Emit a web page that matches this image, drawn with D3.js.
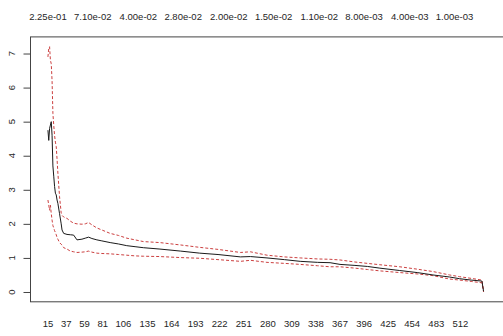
<!DOCTYPE html>
<head>
<meta charset="utf-8">
<script src="https://d3js.org/d3.v7.min.js"></script>
<style>
  body { margin: 0; background: #fff; }
  text { font-family: "Liberation Sans", Arial, sans-serif; font-size: 9.5px; fill: #262626; }
</style>
</head>
<body>
<div id="chart"></div>
<script>
// number of variables kept (x) and the error rate with its band
var nVars = [15, 16, 17, 18, 19, 20, 21, 22, 23, 24, 25, 26, 27, 29, 31, 32, 34, 38, 42, 46, 50, 56, 60, 64, 68, 74, 80, 90, 100, 110, 120, 130, 150, 175, 198, 220, 247, 259, 279, 300, 319, 340, 355, 367, 385, 400, 415, 439, 460, 479, 499, 511, 525, 538, 540];
var meanErr = [4.75, 4.45, 4.8, 4.9, 5.0, 4.6, 3.7, 3.4, 3.1, 2.9, 2.85, 2.7, 2.6, 2.3, 2.0, 1.82, 1.72, 1.69, 1.68, 1.67, 1.53, 1.55, 1.58, 1.61, 1.57, 1.53, 1.5, 1.45, 1.41, 1.36, 1.33, 1.3, 1.26, 1.2, 1.14, 1.1, 1.03, 1.04, 1.0, 0.95, 0.9, 0.87, 0.86, 0.81, 0.78, 0.75, 0.7, 0.63, 0.57, 0.5, 0.44, 0.39, 0.35, 0.32, 0.02];
var upperErr = [6.9, 7.15, 7.2, 6.8, 6.7, 6.2, 5.24, 4.9, 4.6, 4.4, 4.27, 3.9, 3.49, 2.8, 2.31, 2.25, 2.2, 2.16, 2.08, 2.02, 2.0, 1.99, 2.0, 2.04, 1.97, 1.88, 1.82, 1.72, 1.66, 1.58, 1.53, 1.48, 1.45, 1.38, 1.31, 1.25, 1.16, 1.18, 1.08, 1.03, 1.0, 0.97, 0.96, 0.94, 0.88, 0.84, 0.8, 0.74, 0.67, 0.6, 0.5, 0.45, 0.4, 0.35, 0.03];
var lowerErr = [2.7, 2.55, 2.4, 2.55, 2.3, 2.11, 1.95, 1.88, 1.8, 1.75, 1.68, 1.6, 1.55, 1.45, 1.4, 1.38, 1.3, 1.26, 1.2, 1.18, 1.16, 1.17, 1.18, 1.2, 1.17, 1.14, 1.13, 1.12, 1.1, 1.08, 1.06, 1.05, 1.04, 1.01, 0.99, 0.95, 0.9, 0.93, 0.87, 0.84, 0.81, 0.77, 0.74, 0.74, 0.7, 0.66, 0.62, 0.57, 0.53, 0.48, 0.38, 0.35, 0.31, 0.27, 0.0];

var bottomTicks = [15, 37, 59, 81, 106, 135, 164, 193, 222, 251, 280, 309, 338, 367, 396, 425, 454, 483, 512];
var topTickAt = [15, 69, 124, 178, 233, 287, 342, 396, 451, 505];
var topLabels = ["2.25e-01", "7.10e-02", "4.00e-02", "2.80e-02", "2.00e-02", "1.50e-02", "1.10e-02", "8.00e-03", "4.00e-03", "1.00e-03"];
var yTicks = [0, 1, 2, 3, 4, 5, 6, 7];

var width = 503, height = 336;

var svg = d3.select("#chart")
  .append("svg")
    .attr("width", width)
    .attr("height", height);

// R style limits: data range plus 4% on each side
var x = d3.scaleLinear()
  .domain([-6, 561])
  .range([30.5, 501]);
var y = d3.scaleLinear()
  .domain([-0.288, 7.488])
  .range([301.8, 36.9]);

// plot box (right side falls off the cropped picture)
svg.append("rect")
  .attr("x", x(-6))
  .attr("y", y(7.488))
  .attr("width", width + 5 - x(-6))
  .attr("height", y(-0.288) - y(7.488))
  .attr("fill", "none")
  .attr("stroke", "#444")
  .attr("stroke-width", 1);

// left axis: ticks and rotated labels
svg.append("g")
  .attr("transform", "translate(" + x(-6) + ",0)")
  .call(d3.axisLeft(y).tickValues(yTicks).tickSize(7).tickFormat(""))
  .call(function(g) {
    g.select(".domain").remove();
    g.selectAll("line").attr("stroke", "#444");
  });

svg.append("g")
  .selectAll("text")
  .data(yTicks)
  .enter()
  .append("text")
    .attr("transform", function(d) { return "translate(15," + y(d) + ") rotate(-90)"; })
    .style("text-anchor", "middle")
    .text(function(d) { return d; });

// bottom labels (no tick marks)
svg.append("g")
  .selectAll("text")
  .data(bottomTicks)
  .enter()
  .append("text")
    .attr("x", function(d) { return x(d); })
    .attr("y", 326.5)
    .style("text-anchor", "middle")
    .text(function(d) { return d; });

// top labels
svg.append("g")
  .selectAll("text")
  .data(topTickAt)
  .enter()
  .append("text")
    .attr("x", function(d) { return x(d); })
    .attr("y", 19.8)
    .style("text-anchor", "middle")
    .text(function(d, i) { return topLabels[i]; });

function lineOf(vals) {
  return d3.line()
    .x(function(d, i) { return x(nVars[i]); })
    .y(function(d) { return y(d); })(vals);
}

svg.append("path")
  .attr("d", lineOf(upperErr))
  .attr("fill", "none")
  .attr("stroke", "#cc4040")
  .attr("stroke-width", 1)
  .attr("stroke-dasharray", "3,2");

svg.append("path")
  .attr("d", lineOf(lowerErr))
  .attr("fill", "none")
  .attr("stroke", "#cc4040")
  .attr("stroke-width", 1)
  .attr("stroke-dasharray", "3,2");

svg.append("path")
  .attr("d", lineOf(meanErr))
  .attr("fill", "none")
  .attr("stroke", "#1a1a1a")
  .attr("stroke-width", 1);
</script>
</body>
